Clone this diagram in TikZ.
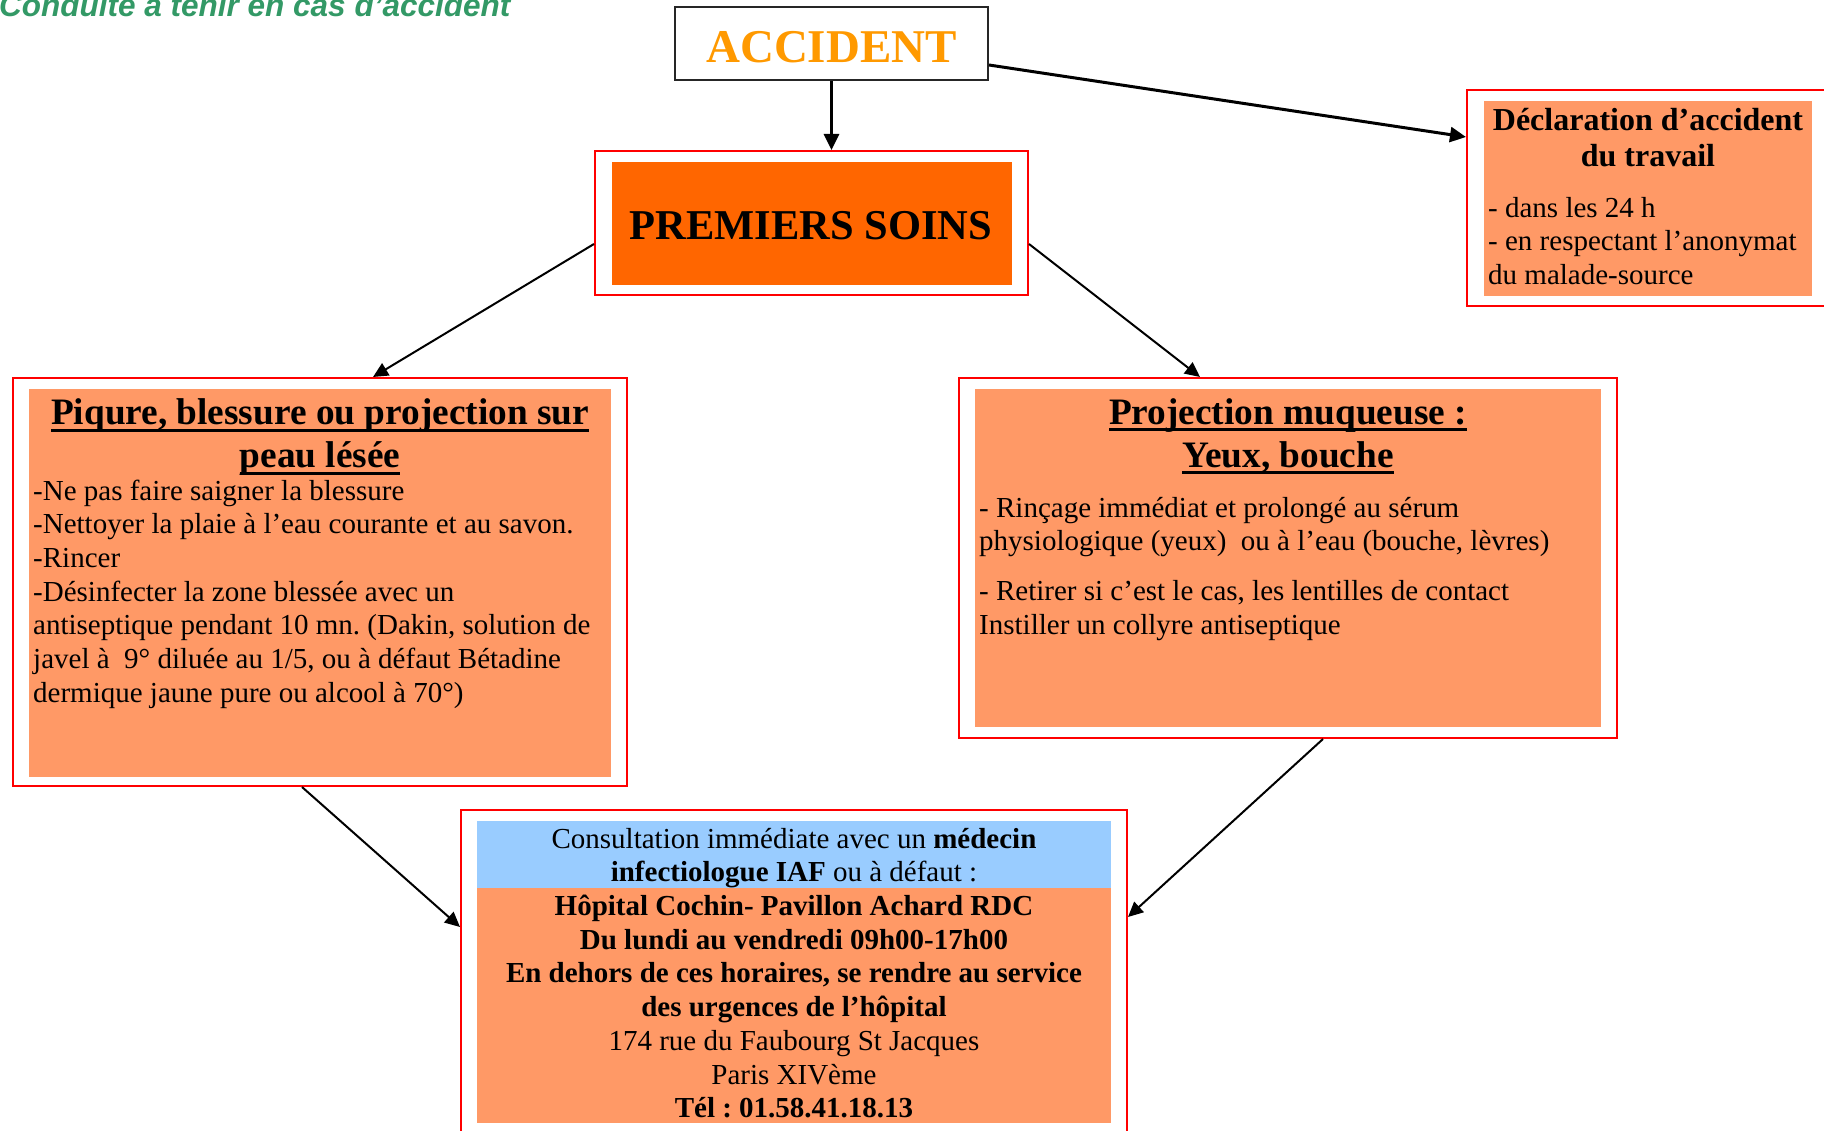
\documentclass[tikz,border=0pt]{standalone}
\usepackage{fontspec}
\setmainfont{Liberation Serif}
\newfontfamily\arialfont{Liberation Sans}
\usetikzlibrary{arrows.meta}
\frenchspacing
\definecolor{boxred}{HTML}{FF0000}
\definecolor{salmon}{HTML}{FF9966}
\definecolor{soinorange}{HTML}{FF6600}
\definecolor{accorange}{HTML}{FF9900}
\definecolor{lightblue}{HTML}{99CCFF}
\definecolor{titlegreen}{HTML}{339966}
\newsavebox\ulbox
\newcommand\myul[1]{\sbox\ulbox{#1}\rlap{\rule[-7pt]{\wd\ulbox}{3pt}}\usebox\ulbox}
\begin{document}
\frenchspacing
\begin{tikzpicture}[x=1pt,y=-1pt,
  redframe/.style={draw=boxred, line width=2pt, rectangle, inner sep=0pt},
  fillbox/.style={fill=#1, draw=none, rectangle, inner sep=0pt},
  bodytext/.style={inner sep=0pt, font=\fontsize{29}{33.7}\selectfont},
  titletext/.style={inner sep=0pt, align=center, anchor=north, font=\bfseries\fontsize{37.3}{43}\selectfont},
  bigarrow/.style={line width=3pt, -{Triangle[length=16pt,width=15pt]}},
  smallarrow/.style={line width=2pt, -{Triangle[length=15pt,width=14pt]}}
]
\useasboundingbox (0,0) rectangle (1824,1131);

% title
\node[anchor=base west, inner sep=0pt, text=titlegreen,
      font=\arialfont\bfseries\itshape\fontsize{31.5}{36}\selectfont] (maintitle) at (-1,17) {Conduite à tenir en cas d’accident};

% ACCIDENT
\node[draw=black!85, line width=2pt, rectangle, inner sep=0pt, minimum width=313pt, minimum height=73pt] (accident) at (831.5,43.5) {};
\node[anchor=base, inner sep=0pt, text=accorange, font=\bfseries\fontsize{47}{50}\selectfont] (accidenttext) at (831.5,63) {ACCIDENT};

% PREMIERS SOINS
\node[redframe, minimum width=433pt, minimum height=144pt] (soins) at (811.5,223) {};
\node[fillbox=soinorange, minimum width=400pt, minimum height=123pt] (soinsfill) at (812,223.5) {};
\node[anchor=base, inner sep=0pt, font=\bfseries\fontsize{42.5}{46}\selectfont] (soinstext) at (811,240) {PREMIERS SOINS};

% Declaration
\node[redframe, minimum width=361pt, minimum height=216pt] (decl) at (1647.5,198) {};
\node[fillbox=salmon, minimum width=328pt, minimum height=195pt] (declfill) at (1648,198.5) {};
\node[inner sep=0pt, align=center, anchor=north, font=\bfseries\fontsize{32}{36}\selectfont] (decltitle) at (1648,130-25.2) {\strut Déclaration d’accident\\du travail};
\node[bodytext, align=left, anchor=north west] (decltext) at (1488,217-23.6) {\strut - dans les 24 h\\- en respectant l’anonymat\\du malade-source};

% Piqure
\node[redframe, minimum width=614pt, minimum height=408pt] (piqure) at (320,582) {};
\node[fillbox=salmon, minimum width=582pt, minimum height=388pt] (piqurefill) at (320,583) {};
\node[titletext] (piquretitle) at (320,424.5-30.1) {\strut\myul{Piqure, blessure ou projection sur}\\\myul{peau lésée}};
\node[bodytext, align=left, anchor=north west] (piquretext) at (33,500-23.6) {\strut -Ne pas faire saigner la blessure\\-Nettoyer la plaie à l’eau courante et au savon.\\-Rincer\\-Désinfecter la zone blessée avec un\\antiseptique pendant 10 mn. (Dakin, solution de\\javel à\ \ 9° diluée au 1/5, ou à défaut Bétadine\\dermique jaune pure ou alcool à 70°)};

% Muqueuse
\node[redframe, minimum width=658pt, minimum height=360pt] (muq) at (1288,558) {};
\node[fillbox=salmon, minimum width=626pt, minimum height=338pt] (muqfill) at (1288,558) {};
\node[titletext] (muqtitle) at (1288,424-30.1) {\strut\myul{Projection muqueuse :}\\\myul{Yeux, bouche}};
\node[bodytext, align=left, anchor=north west] (muqtext) at (979,517-23.6) {\strut - Rinçage immédiat et prolongé au sérum\\physiologique (yeux)\ \ ou à l’eau (bouche, lèvres)\\[16pt]- Retirer si c’est le cas, les lentilles de contact\\Instiller un collyre antiseptique};

% Consultation
\node[redframe, minimum width=666pt, minimum height=330pt] (consult) at (794,975) {};
\node[fillbox=lightblue, minimum width=634pt, minimum height=67pt, anchor=north] (consultblue) at (794,821) {};
\node[fillbox=salmon, minimum width=634pt, minimum height=235pt, anchor=north] (consultfill) at (794,888) {};
\node[bodytext, align=center, anchor=north] (consulttext) at (794,848-23.6) {\strut Consultation immédiate avec un \textbf{médecin}\\\textbf{infectiologue IAF} ou à défaut :\\\textbf{Hôpital Cochin- Pavillon Achard RDC}\\\textbf{Du lundi au vendredi 09h00-17h00}\\\textbf{En dehors de ces horaires, se rendre au service}\\\textbf{des urgences de l’hôpital}\\174 rue du Faubourg St Jacques\\Paris XIVème\\\textbf{Tél : 01.58.41.18.13}};

% connectors
\draw[bigarrow] (accident.south) -- (accident.south |- soins.north);
\draw[bigarrow] ([yshift=-21.5pt]accident.east) -- ([yshift=61pt]decl.west);
\draw[smallarrow] ([yshift=-21pt]soins.west) -- ([xshift=53pt]piqure.north);
\draw[smallarrow] ([yshift=-21pt]soins.east) -- ([xshift=-88pt]muq.north);
\draw[smallarrow] ([xshift=-18pt]piqure.south) -- ([yshift=48pt]consult.west);
\draw[smallarrow] ([xshift=35pt]muq.south) -- ([yshift=58pt]consult.east);
\end{tikzpicture}
\end{document}
